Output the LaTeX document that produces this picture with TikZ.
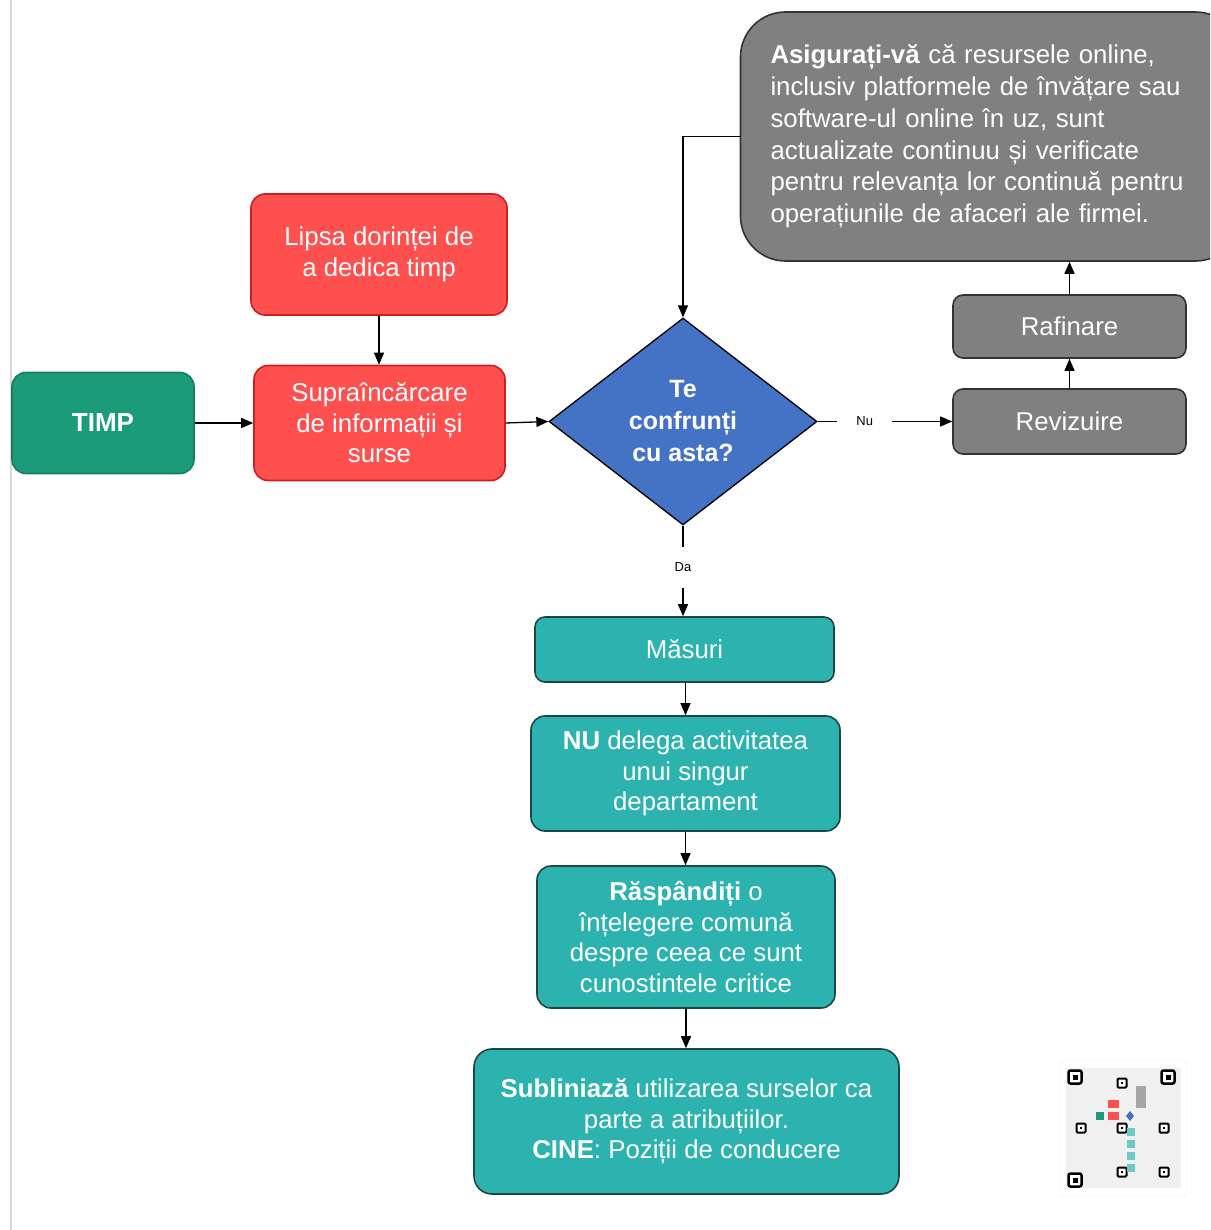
\documentclass[tikz,border=0pt]{standalone}
\usepackage{fontspec}
\setmainfont{Liberation Sans}
\usepackage{tikz}
\usetikzlibrary{shapes.geometric,arrows.meta}

\definecolor{timpgreen}{HTML}{1B9B79}
\definecolor{timpline}{HTML}{167F63}
\definecolor{redfill}{HTML}{FF5050}
\definecolor{redline}{HTML}{CC1F1F}
\definecolor{qblue}{HTML}{4472C4}
\definecolor{greyfill}{HTML}{808080}
\definecolor{tealfill}{HTML}{2CB3B0}
\definecolor{tealline}{HTML}{1D4746}

\newcommand{\bigtxt}{\fontsize{25.8}{30.5}\selectfont}

\begin{document}
\begin{tikzpicture}
    [
        x=1pt, y=-1pt,
        box/.style={draw, line width=1.6pt, rounded corners=14pt, text=white,
            align=center, inner sep=0pt, font=\bigtxt},
        redbox/.style={box, fill=redfill, draw=redline},
        greybox/.style={box, fill=greyfill, draw=black!80},
        tealbox/.style={box, fill=tealfill, draw=tealline},
        conn/.style={-{Triangle[length=12pt,width=10pt]}, line width=1.3pt},
        lbl/.style={fill=white, font=\fontsize{13}{15}\selectfont, inner xsep=19pt, inner ysep=16pt}
    ]
        \useasboundingbox (0,0) rectangle (1210,1230);
        \fill[white] (0,0) rectangle (1210,1230);
        \draw[black!15, line width=1.5pt] (11,0) -- (11,1230);

        % left part
        \node[box, fill=timpgreen, draw=timpline, minimum width=182pt, minimum height=101pt,
            font=\fontsize{26}{31}\selectfont\bfseries] (timp) at (103,423) {TIMP};
        \node[redbox, minimum width=256pt, minimum height=121pt] (lipsa) at (379,254.5)
            {Lipsa dorinței de\\a dedica timp};
        \node[redbox, minimum width=251pt, minimum height=115pt] (supra) at (379.5,423)
            {Supraîncărcare\\de informații și\\surse};

        % question
        \node[diamond, draw, line width=1.3pt, fill=qblue, text=white, align=center,
            inner sep=0pt, minimum width=268pt, minimum height=207pt,
            font=\fontsize{25}{32}\selectfont\bfseries] (q) at (683,421.5) {Te\\confrunți\\cu asta?};

        % right part
        \begin{scope}
        \clip (0,0) rectangle (1210,1230);
        \node[greybox, rounded corners=45pt, minimum width=500pt, minimum height=249pt,
            text width=440pt, align=left, font=\fontsize{25.8}{31.8}\selectfont] (info) at (990.5,136.5)
            {\textbf{Asigurați-vă} că resursele online,\\
             inclusiv platformele de învățare sau\\
             software-ul online în uz, sunt\\
             actualizate continuu și verificate\\
             pentru relevanța lor continuă pentru\\
             operațiunile de afaceri ale firmei.};
        \end{scope}
        \node[greybox, rounded corners=10pt, minimum width=233pt, minimum height=63pt] (rafinare)
            at (1069.5,326.5) {Rafinare};
        \node[greybox, rounded corners=10pt, minimum width=233pt, minimum height=65pt] (revizuire)
            at (1069.5,421.5) {Revizuire};

        % lower part
        \node[tealbox, rounded corners=10pt, minimum width=299pt, minimum height=65pt] (masuri)
            at (684.5,649.5) {Măsuri};
        \node[tealbox, minimum width=309pt, minimum height=115pt] (delega) at (685.5,773.5)
            {\textbf{NU} delega activitatea\\unui singur\\departament};
        \node[tealbox, minimum width=298pt, minimum height=142pt] (raspanditi) at (686,937)
            {\textbf{Răspândiți} o\\înțelegere comună\\despre ceea ce sunt\\cunostintele critice};
        \node[tealbox, rounded corners=18pt, minimum width=425pt, minimum height=145pt] (subliniaza)
            at (686.5,1121.5)
            {\textbf{Subliniază} utilizarea surselor ca\\parte a atribuțiilor.\\\textbf{CINE}: Poziții de conducere};

        % connectors
        \draw[conn] (timp) -- (supra);
        \draw[conn] (lipsa.south) -- (lipsa.south |- supra.north);
        \draw[conn] (supra.east) -- (q.west);
        \draw[conn] (info.west) -| (q.north);
        \draw[conn] (q.east) -- node[lbl, pos=0.35] (nu) {Nu} (revizuire.west);
        \draw[conn] (revizuire.north) -- (rafinare.south);
        \draw[conn] (rafinare.north) -- (rafinare.north |- info.south);
        \draw[conn] (q.south) -- node[lbl, pos=0.46] (da) {Da} (q.south |- masuri.north);
        \draw[conn] (masuri.south -| delega.north) -- (delega.north);
        \draw[conn] (delega.south) -- (delega.south |- raspanditi.north);
        \draw[conn] (raspanditi.south) -- (raspanditi.south |- subliniaza.north);

        % qr code
        \draw[black!8, fill=white, rounded corners=3pt] (1060,1061) rectangle (1187,1196);
        \fill[black!6] (1066,1068) rectangle (1181,1188);
        \foreach \x/\y in {1075/1077, 1168/1077, 1075/1180}
        {
            \draw[black, fill=white, line width=2.5pt, rounded corners=2pt]
                (\x-6.5,\y-6.5) rectangle (\x+6.5,\y+6.5);
            \fill[black] (\x-2.5,\y-2.5) rectangle (\x+2.5,\y+2.5);
        }
        \foreach \x/\y in {1122/1083, 1081/1128, 1122/1128, 1164/1128, 1122/1172, 1164/1172}
        {
            \draw[black, fill=white, line width=2pt, rounded corners=1pt]
                (\x-4.5,\y-4.5) rectangle (\x+4.5,\y+4.5);
            \fill[black] (\x-1.2,\y-1.2) rectangle (\x+1.2,\y+1.2);
        }
        \fill[redfill] (1108,1100) rectangle (1119,1108);
        \fill[redfill] (1108,1112) rectangle (1119,1120);
        \fill[timpgreen] (1096,1112) rectangle (1104,1120);
        \fill[qblue] (1130,1111) -- (1134,1116) -- (1130,1121) -- (1126,1116) -- cycle;
        \fill[greyfill!70] (1136,1086) rectangle (1146,1108);
        \foreach \y in {1132,1144,1156,1168}
            \fill[tealfill!70] (1127,\y-4) rectangle (1135,\y+4);
\end{tikzpicture}
\end{document}
